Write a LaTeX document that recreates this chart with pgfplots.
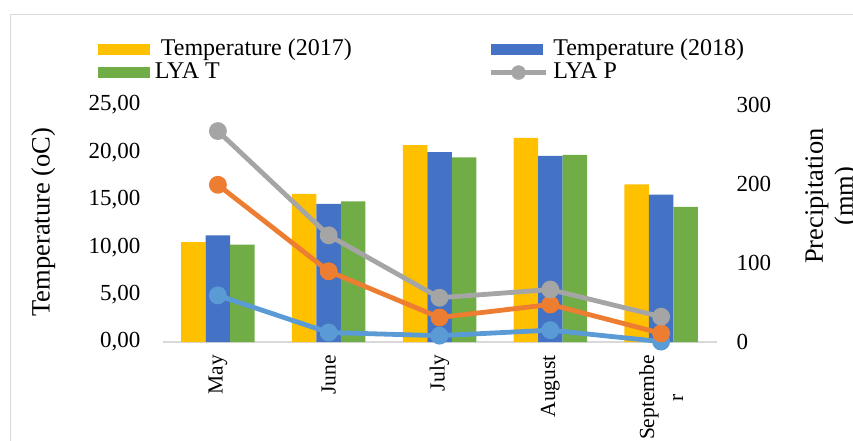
\documentclass[border=0pt]{standalone}
\usepackage{pgfplots}
\pgfplotsset{compat=1.18}
\usepackage{fontspec}
\setmainfont{Liberation Serif}
\definecolor{cA}{HTML}{FFC000}
\definecolor{cB}{HTML}{4472C4}
\definecolor{cC}{HTML}{70AD47}
\definecolor{cP}{HTML}{A5A5A5}
\definecolor{cO}{HTML}{ED7D31}
\definecolor{cL}{HTML}{5B9BD5}
\definecolor{bordergray}{HTML}{D9D9D9}
\pgfplotsset{
  barleg/.style={legend image code/.code={\fill[##1] (0pt,-5.85pt) rectangle (52pt,5.85pt);}},
  lineleg/.style={legend image code/.code={\draw[cP, line width=4.5pt, solid] (0pt,0pt) -- (55pt,0pt); \fill[cP] (27.5pt,0pt) circle (7pt);}},
}
\begin{document}
\begin{tikzpicture}
\useasboundingbox (0pt,0pt) rectangle (853pt,440pt);
\draw[color=bordergray, line width=1pt] (10pt,-20pt) -- (10pt,425.3pt) -- (900pt,425.3pt);
\begin{axis}[
  at={(162.5pt,98pt)}, anchor=south west,
  scale only axis, width=554pt, height=237pt,
  xmin=-0.5, xmax=4.5, ymin=0, ymax=25,
  ybar=0pt, bar width=24.5pt,
  clip=false,
  xtick={0,1,2,3,4},
  xticklabels={May,June,July,August,{Septembe\\r}},
  xticklabel style={rotate=90, anchor=east, inner sep=0pt, align=center, font=\fontsize{21.5}{29}\selectfont},
  xticklabel shift=13pt,
  ytick={0,5,10,15,20,25},
  yticklabel style={inner sep=0pt, font=\fontsize{23}{27}\selectfont,
    /pgf/number format/.cd, fixed, fixed zerofill, precision=2, use comma, assume math mode=true},
  yticklabel shift=22pt,
  axis x line*=bottom, axis y line*=left,
  x axis line style={draw=bordergray, line width=1.2pt, -},
  y axis line style={draw=none},
  major tick length=0pt, tick style={draw=none},
  ylabel={Temperature (oC)},
  every axis y label/.style={at={(axis description cs:-0.2152,0.5055)}, anchor=center, rotate=90, font=\fontsize{26.5}{30}\selectfont},
  legend columns=2,
  legend cell align=left,
  legend style={at={(axis description cs:-0.117,1.2832)}, anchor=north west, draw=none, fill=none, inner sep=0pt,
    font=\fontsize{24}{28}\selectfont,
    nodes={inner sep=0pt, text height=17pt, text depth=6pt},
    /tikz/every even column/.append style={column sep=137pt},
    /tikz/every odd column/.append style={column sep=5pt}},
]
\addplot[fill=cA, draw=none, bar shift=-24.5pt, barleg] coordinates {(0,10.53) (1,15.62) (2,20.77) (3,21.53) (4,16.63)};
\addlegendentry{\ Temperature (2017)}
\addplot[fill=cB, draw=none, bar shift=0pt, barleg] coordinates {(0,11.24) (1,14.57) (2,20.03) (3,19.64) (4,15.55)};
\addlegendentry{Temperature (2018)}
\addplot[fill=cC, draw=none, bar shift=24.5pt, barleg] coordinates {(0,10.26) (1,14.84) (2,19.47) (3,19.75) (4,14.25)};
\addlegendentry{LYA T}
\addlegendimage{lineleg}
\addlegendentry{LYA P}
\end{axis}
\begin{axis}[
  at={(162.5pt,98pt)}, anchor=south west,
  scale only axis, width=554pt, height=237pt,
  xmin=-0.5, xmax=4.5, ymin=0, ymax=300,
  clip=false,
  axis x line=none, axis y line*=right,
  y axis line style={draw=none},
  xtick=\empty, ytick={0,100,200,300},
  major tick length=0pt, tick style={draw=none},
  yticklabel style={inner sep=0pt, font=\fontsize{23}{27}\selectfont, /pgf/number format/assume math mode=true},
  yticklabel shift=20pt,
  ylabel={Precipitation\\(mm)},
  every axis y label/.style={at={(axis description cs:1.2085,0.6155)}, anchor=center, rotate=90, align=center, font=\fontsize{26.5}{30}\selectfont},
]
\addplot[color=cL, line width=4.8pt, mark=*, mark size=6.5pt] coordinates {(0,59) (1,12) (2,8) (3,15) (4,0.5)};
\addplot[color=cO, line width=4.8pt, mark=*, mark size=6.5pt] coordinates {(0,199) (1,89.5) (2,31) (3,47.5) (4,11)};
\addplot[color=cP, line width=4.8pt, mark=*, mark size=6.5pt] coordinates {(0,267) (1,135) (2,56) (3,66.4) (4,32)};
\end{axis}
\end{tikzpicture}
\end{document}
